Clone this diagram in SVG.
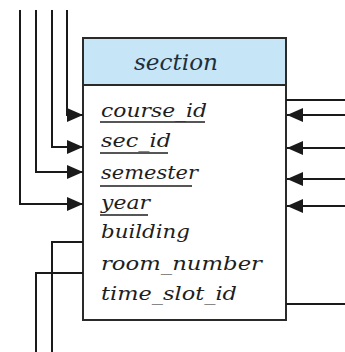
<svg xmlns="http://www.w3.org/2000/svg" width="345" height="352" viewBox="0 0 345 352">
<style>
.ln{fill:none;stroke:#1a1a1a;stroke-width:2}
.box{fill:#ffffff;stroke:#2a2a2a;stroke-width:2}
.hdr{fill:#c6e6f8;stroke:#2a2a2a;stroke-width:2}
.t{font-family:"DejaVu Serif","Liberation Serif",serif;font-style:italic;font-size:19px;fill:#1e1e1e}
.h{font-family:"DejaVu Serif","Liberation Serif",serif;font-style:italic;font-size:22px;fill:#1f2f3a}
.u{stroke:#1e1e1e;stroke-width:1.5}
</style>
<defs>
<marker id="ah" markerWidth="16" markerHeight="14" refX="16" refY="7" orient="auto" markerUnits="userSpaceOnUse">
<path d="M0,0 L16,7 L0,14 Z" fill="#1a1a1a"/>
</marker>
</defs>
<rect width="345" height="352" fill="#ffffff"/>
<g id="section">
<rect class="box" x="83" y="38" width="203" height="282"/>
<rect class="hdr" x="83" y="38" width="203" height="47"/>
<text class="h" x="134" y="70" textLength="84" lengthAdjust="spacingAndGlyphs">section</text>
<text class="t" x="101" y="117" textLength="106" lengthAdjust="spacingAndGlyphs">course_id</text>
<line class="u" x1="100" y1="122" x2="205" y2="122"/>
<text class="t" x="101" y="147" textLength="70" lengthAdjust="spacingAndGlyphs">sec_id</text>
<line class="u" x1="100" y1="153" x2="168" y2="153"/>
<text class="t" x="101" y="179" textLength="97" lengthAdjust="spacingAndGlyphs">semester</text>
<line class="u" x1="100" y1="186" x2="192" y2="186"/>
<text class="t" x="101" y="209" textLength="49" lengthAdjust="spacingAndGlyphs">year</text>
<line class="u" x1="100" y1="215" x2="148" y2="215"/>
<text class="t" x="101" y="238" textLength="89" lengthAdjust="spacingAndGlyphs">building</text>
<text class="t" x="101" y="270" textLength="161" lengthAdjust="spacingAndGlyphs">room_number</text>
<text class="t" x="101" y="300" textLength="136" lengthAdjust="spacingAndGlyphs">time_slot_id</text>
</g>
<g id="connectors">
<path class="ln" d="M67,10 V115 H83" marker-end="url(#ah)"/>
<path class="ln" d="M52,10 V147 H83" marker-end="url(#ah)"/>
<path class="ln" d="M36,10 V172 H83" marker-end="url(#ah)"/>
<path class="ln" d="M20,10 V204 H83" marker-end="url(#ah)"/>
<path class="ln" d="M83,242 H52 V352"/>
<path class="ln" d="M83,273 H36 V352"/>
<path class="ln" d="M286,100 H345"/>
<path class="ln" d="M345,115 H287" marker-end="url(#ah)"/>
<path class="ln" d="M345,148 H287" marker-end="url(#ah)"/>
<path class="ln" d="M345,179 H287" marker-end="url(#ah)"/>
<path class="ln" d="M345,206 H287" marker-end="url(#ah)"/>
<path class="ln" d="M286,304 H345"/>
</g>
</svg>
